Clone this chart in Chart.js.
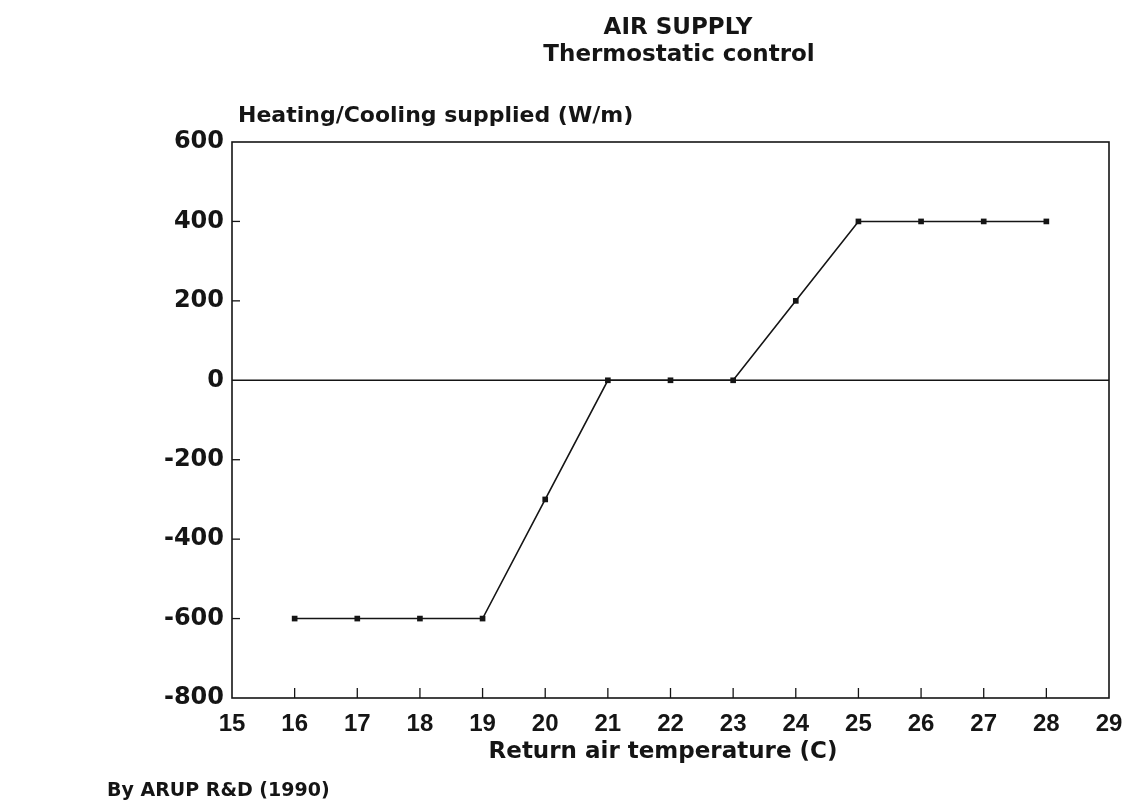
<!DOCTYPE html>
<html>
<head>
<meta charset="utf-8">
<script src="https://cdn.jsdelivr.net/npm/chart.js"></script>
<style>
  html, body { margin: 0; padding: 0; background: #fff; }
  #wrap { width: 1129px; height: 809px; }
</style>
</head>
<body>
<div id="wrap"><canvas id="mychart" width="1129" height="809"></canvas></div>
<script>
// return air temperature (C) and heating/cooling supplied (W/m)
var temps = [16, 17, 18, 19, 20, 21, 22, 23, 24, 25, 26, 27, 28];
var supplied = [-600, -600, -600, -600, -300, 0, 0, 0, 200, 400, 400, 400, 400];
var xTicks = [15, 16, 17, 18, 19, 20, 21, 22, 23, 24, 25, 26, 27, 28, 29];
var yTicks = [600, 400, 200, 0, -200, -400, -600, -800];

var title1 = 'AIR SUPPLY';
var title2 = 'Thermostatic control';
var yTitle = 'Heating/Cooling supplied (W/m)';
var xTitle = 'Return air temperature (C)';
var credit = 'By ARUP R&D (1990)';

var ink = '#151515';
var wideFont = '"DejaVu Sans", Verdana, sans-serif';
var narrowFont = '"Liberation Sans", Arial, sans-serif';

var points = [];
for (var i = 0; i < temps.length; i++) {
    points.push({x: temps[i], y: supplied[i]});
}

// box, zero line, inward tick marks and the loose texts
var extras = {
    id: 'extras',
    beforeDatasetsDraw: function(chart) {
        var c = chart.ctx, a = chart.chartArea;
        var xs = chart.scales.x, ys = chart.scales.y;
        c.save();
        c.strokeStyle = ink;
        c.lineWidth = 1.6;
        c.strokeRect(a.left, a.top, a.right - a.left, a.bottom - a.top);
        var y0 = ys.getPixelForValue(0);
        c.beginPath();
        c.moveTo(a.left, y0);
        c.lineTo(a.right, y0);
        c.stroke();
        c.lineWidth = 1.3;
        xTicks.forEach(function(t) {
            if (t == xs.min || t == xs.max) return;
            var px = xs.getPixelForValue(t);
            c.beginPath();
            c.moveTo(px, a.bottom);
            c.lineTo(px, a.bottom - 10);
            c.stroke();
        });
        yTicks.forEach(function(t) {
            if (t == ys.min || t == ys.max || t == 0) return;
            var py = ys.getPixelForValue(t);
            c.beginPath();
            c.moveTo(a.left, py);
            c.lineTo(a.left + 8, py);
            c.stroke();
        });
        c.restore();
    },
    afterDraw: function(chart) {
        var c = chart.ctx;
        c.save();
        c.fillStyle = ink;
        c.textBaseline = 'alphabetic';
        c.font = 'bold 23px ' + wideFont;
        c.textAlign = 'center';
        c.fillText(title1, 678, 34);
        c.fillText(title2, 679, 61);
        c.textAlign = 'left';
        c.font = 'bold 22px ' + wideFont;
        c.fillText(yTitle, 238, 122);
        c.textAlign = 'center';
        c.font = 'bold 23px ' + wideFont;
        c.fillText(xTitle, 663, 758);
        c.textAlign = 'left';
        c.font = 'bold 19px ' + wideFont;
        c.fillText(credit, 107, 796);
        c.restore();
    }
};

var config = {
    type: 'line',
    data: {
        datasets: [{
            data: points,
            borderColor: ink,
            borderWidth: 1.6,
            backgroundColor: ink,
            pointStyle: 'rect',
            pointRadius: 4,
            pointBorderWidth: 0,
            tension: 0
        }]
    },
    options: {
        responsive: false,
        animation: false,
        events: [],
        layout: {
            autoPadding: false,
            padding: {left: 0, top: 142, right: 20, bottom: 0}
        },
        plugins: {
            legend: {display: false},
            tooltip: {enabled: false},
            title: {display: false}
        },
        scales: {
            x: {
                type: 'linear',
                min: 15,
                max: 29,
                grid: {display: false, drawTicks: false},
                border: {display: false},
                afterBuildTicks: function(s) {
                    s.ticks = xTicks.map(function(v) { return {value: v}; });
                },
                afterFit: function(s) {
                    s.height = 809 - 698;
                    s.paddingLeft = 0;
                    s.paddingRight = 0;
                },
                ticks: {
                    color: ink,
                    padding: 12,
                    maxRotation: 0,
                    autoSkip: false,
                    font: {family: narrowFont, size: 24, weight: 'bold'}
                }
            },
            y: {
                min: -800,
                max: 600,
                grid: {display: false, drawTicks: false},
                border: {display: false},
                afterBuildTicks: function(s) {
                    s.ticks = yTicks.map(function(v) { return {value: v}; });
                },
                afterFit: function(s) {
                    s.width = 232;
                    s.paddingTop = 0;
                    s.paddingBottom = 0;
                },
                ticks: {
                    color: ink,
                    padding: 8,
                    font: {family: wideFont, size: 24, weight: 'bold'}
                }
            }
        }
    },
    plugins: [extras]
};

var ctx = document.getElementById('mychart').getContext('2d');
window.myLine = new Chart(ctx, config);
</script>
</body>
</html>
